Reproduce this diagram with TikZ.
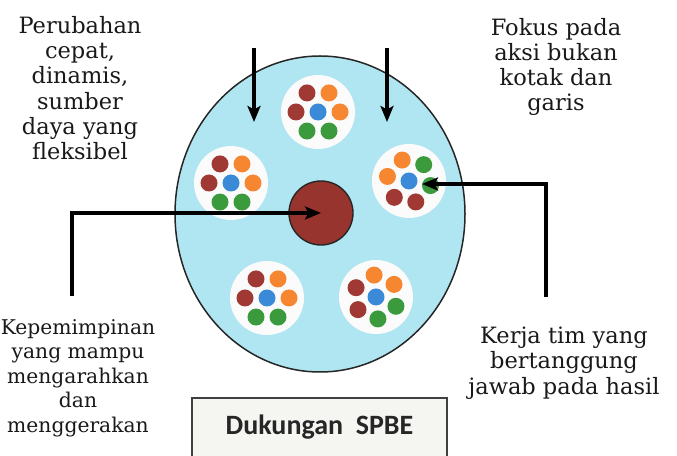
\documentclass[tikz,border=0pt]{standalone}
\usepackage{fontspec}
\setmainfont{DejaVu Serif}
\newfontfamily\boxfont{Carlito}
\usetikzlibrary{arrows.meta,calc}

\definecolor{skyfill}{RGB}{176,229,242}
\definecolor{corered}{RGB}{152,52,46}
\definecolor{dotred}{RGB}{160,56,52}
\definecolor{dotorange}{RGB}{246,135,48}
\definecolor{dotblue}{RGB}{58,138,216}
\definecolor{dotgreen}{RGB}{58,154,60}
\definecolor{boxfill}{RGB}{245,245,242}

\tikzset{
  caption/.style={font=\fontsize{22.5}{25.3}\selectfont, align=center, text=black!90},
  pointer/.style={line width=3.2pt, -{Stealth[length=16pt,width=13pt,inset=3.5pt]}},
  disk/.style={circle, fill=white!97!gray, minimum size=74pt, inner sep=0pt},
}

\begin{document}
\begin{tikzpicture}[x=1pt, y=1pt]
  \useasboundingbox (0,0) rectangle (677,455);
  \clip (0,0) rectangle (677,455);

  % big field
  \draw[fill=skyfill, draw=black!85, line width=1.5pt] (320,241) ellipse [x radius=145, y radius=158];

  % teams of dots
  \foreach \n/\cx/\cy/\rot in {ctop/318/343/0, cleft/231/272/0, cright/409/274/108, cbl/267/157/0, cbr/376/158/35}{
    \node[disk] (\n) at (\cx,\cy) {};
    \foreach \a/\c in {0/dotorange, 60/dotorange, 120/dotred, 180/dotred, 240/dotgreen, 300/dotgreen}
      \fill[\c] ($(\n)+({\a+\rot}:22)$) circle (8.5);
    \fill[dotblue] (\n) circle (8.5);
  }

  \node[circle, minimum size=64pt, inner sep=0pt, fill=corered, draw=black!85, line width=1.4pt] (core) at (321,242) {};

  % captions
  \node[caption] (tl) at (80,367) {Perubahan\\cepat,\\dinamis,\\sumber\\daya yang\\fleksibel};
  \node[caption] (tr) at (556,388) {Fokus pada\\aksi bukan\\kotak dan\\garis};
  \node[caption, font=\fontsize{20.3}{24.6}\selectfont] (bl) at (78,77) {Kepemimpinan\\yang mampu\\mengarahkan\\dan\\menggerakan};
  \node[caption] (br) at (564,92) {Kerja tim yang\\bertanggung\\jawab pada hasil};

  % arrows
  \coordinate (tlstart) at (254,407);
  \coordinate (tlend) at (254,333);
  \coordinate (trstart) at (387,407);
  \coordinate (trend) at (387,333);
  \coordinate (lfoot) at (72,159);
  \coordinate (rfoot) at (546,158);
  \coordinate (rtip) at (422,271);
  \draw[pointer] (tlstart) -- (tlend);
  \draw[pointer] (trstart) -- (trend);
  \draw[pointer] (lfoot) |- (core.center);
  \draw[pointer] (rfoot) |- (rtip);

  % support box
  \draw[fill=boxfill, draw=black!75, line width=2.2pt] (192,57) rectangle (447,-20);
  \node[font=\boxfont\bfseries\fontsize{28}{32}\selectfont, text=black!85] (spbe) at (319.5,28) {Dukungan\ \ SPBE};
\end{tikzpicture}
\end{document}
